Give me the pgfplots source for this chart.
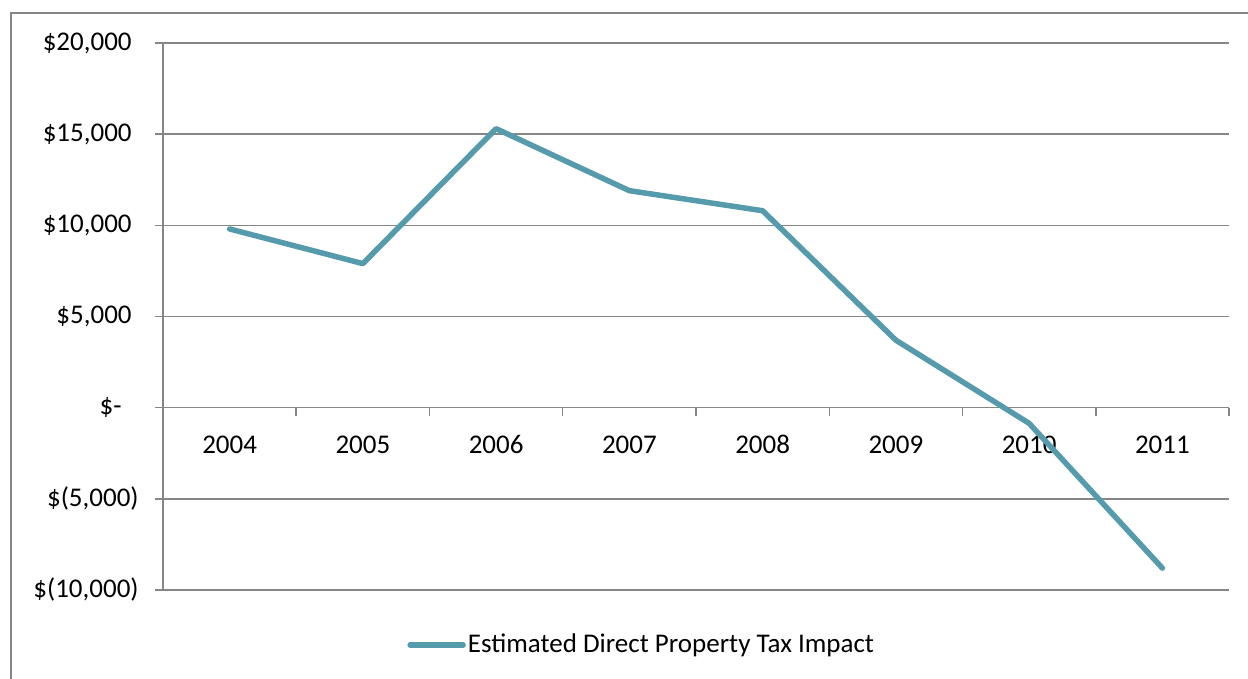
\documentclass[border=0pt]{standalone}
\usepackage{pgfplots}
\pgfplotsset{compat=1.18}
\usepackage{fontspec}
\setmainfont{Carlito}
\definecolor{series}{RGB}{86,155,172}
\definecolor{gridgray}{RGB}{134,134,134}
\begin{document}
\fontsize{13.5pt}{16pt}\selectfont
\begin{tikzpicture}
\useasboundingbox (0,0) rectangle (624pt,339.5pt);
\draw[gridgray, line width=0.6pt] (5.5pt,0) -- (5.5pt,333pt) -- (624pt,333pt);
\begin{axis}[
  at={(81.5pt,44.5pt)}, anchor=south west,
  scale only axis, width=533pt, height=273.5pt,
  xmin=-0.5, xmax=7.5, ymin=-10000, ymax=20000,
  scaled y ticks=false,
  axis x line=middle, axis y line=left,
  axis line style={-, gridgray, line width=0.75pt},
  hide obscured x ticks=false, hide obscured y ticks=false,
  tick align=outside,
  xtick={0,1,2,3,4,5,6,7},
  xticklabels={2004,2005,2006,2007,2008,2009,2010,2011},
  major x tick style={draw=none},
  minor xtick={0.5,1.5,2.5,3.5,4.5,5.5,6.5,7.5},
  minor tick length=4pt,
  major tick length=4pt,
  tick style={gridgray, line width=0.75pt},
  xticklabel style={font=\fontsize{13.5pt}{16pt}\selectfont, anchor=base, yshift=-19pt},
  ytick={-10000,-5000,0,5000,10000,15000,20000},
  yticklabels={{\$(10,000)},{\$(5,000)},{\$-\kern8.5pt},{\$5,000\kern3.5pt},{\$10,000\kern3.5pt},{\$15,000\kern3.5pt},{\$20,000\kern3.5pt}},
  yticklabel style={font=\fontsize{13.5pt}{16pt}\selectfont, anchor=east, xshift=-3.5pt},
  ymajorgrids, grid style={gridgray, line width=0.75pt},
  clip=false,
  legend style={at={(0.2289,-0.1005)}, anchor=west, draw=none, fill=none, inner sep=0pt,
    font=\fontsize{13.5pt}{16pt}\selectfont,
    nodes={inner xsep=1pt}},
  legend cell align=left,
  legend image code/.code={\draw[#1, line cap=round] (0pt,0pt) -- (26.5pt,0pt);},
]
\addplot[series, line width=2.75pt, line join=round, line cap=round, mark=none]
  coordinates {(0,9800)(1,7900)(2,15300)(3,11900)(4,10800)(5,3700)(6,-860)(7,-8800)};
\addlegendentry{Estimated Direct Property Tax Impact}
\end{axis}
\end{tikzpicture}
\end{document}
